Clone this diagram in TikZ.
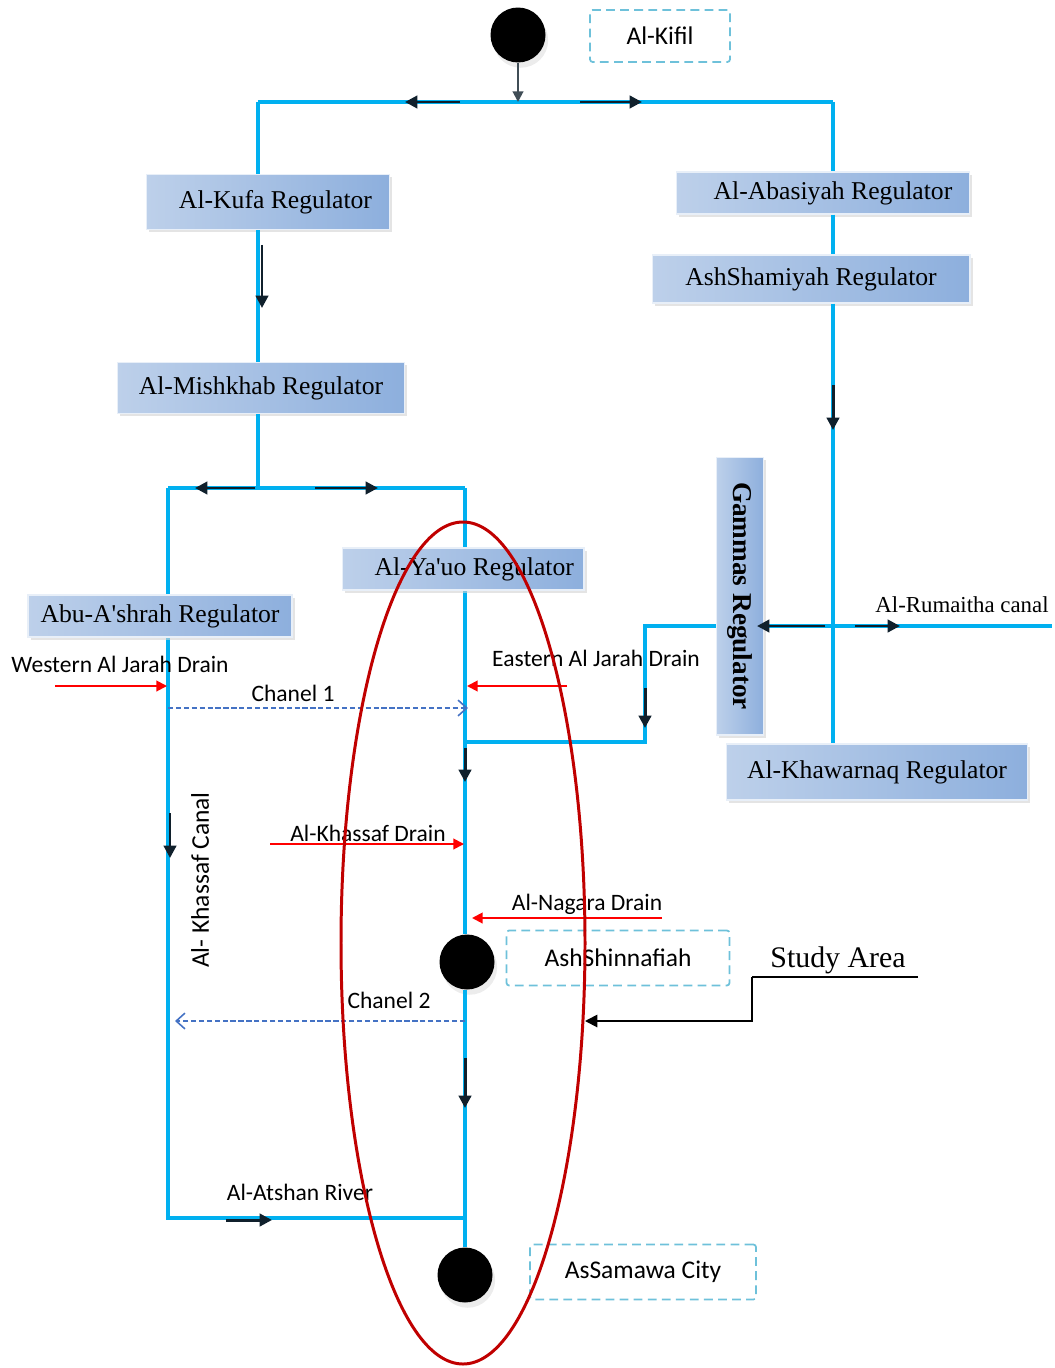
\documentclass[tikz,border=0pt]{standalone}
\usepackage{fontspec}
\setmainfont{Liberation Serif}
\newfontfamily\lblfont{Carlito}
\usetikzlibrary{arrows.meta,shadows,calc}
\definecolor{canal}{HTML}{00B0F0}
\definecolor{boxL}{HTML}{BDD0EA}
\definecolor{boxR}{HTML}{8DAFDD}
\definecolor{dashbox}{HTML}{6EC1DA}
\definecolor{chan}{HTML}{4472C4}
\definecolor{flowc}{HTML}{10202C}
\definecolor{ell}{HTML}{C00000}
\begin{document}
\begin{tikzpicture}[x=0.02cm,y=-0.02cm,
  canalline/.style={draw=canal,line width=2.3pt},
  regbox/.style={shading=axis,left color=boxL,right color=boxR,shading angle=90,
     draw=white!80!boxR,line width=0.6pt,inner sep=0pt,
     font=\fontsize{14.6}{16}\selectfont,
     drop shadow={shadow xshift=1.5pt,shadow yshift=-1.5pt,fill=gray!35,opacity=0.6}},
  endpt/.style={circle,fill=black,minimum size=1.1cm,inner sep=0pt,
     drop shadow={shadow xshift=1.5pt,shadow yshift=-3pt,fill=gray!30}},
  placebox/.style={draw=dashbox,dashed,dash pattern=on 5pt off 3pt,line width=1pt,
     rounded corners=1.5pt,inner sep=0pt,font=\lblfont\fontsize{14.5}{16}\selectfont},
  flow/.style={draw=flowc,line width=1.7pt,-{Triangle[length=7pt,width=7pt]}},
  drain/.style={draw=red,line width=1.1pt,-{Triangle[length=6pt,width=6pt]}},
  chanarrow/.style={draw=chan,dashed,dash pattern=on 3pt off 1.5pt,line width=0.9pt,
     -{Straight Barb[length=5pt,width=9pt]}},
  lbl/.style={font=\lblfont\fontsize{13.4}{15}\selectfont,inner sep=0pt},
  slbl/.style={font=\fontsize{13}{15}\selectfont,inner sep=0pt}]
\useasboundingbox (0,0) rectangle (1054,1368);

% ---------- junction coordinates ----------
\coordinate (t) at (518,102);
\coordinate (tl) at (258,102);
\coordinate (tr) at (833,102);
\coordinate (ml) at (258,488);
\coordinate (bl) at (168,488);
\coordinate (br) at (465,488);
\coordinate (blb) at (168,1218);
\coordinate (brb) at (465,1218);
\coordinate (g1) at (645,626);
\coordinate (g2) at (645,742);
\coordinate (g3) at (465,742);
\coordinate (rx) at (833,626);
\coordinate (rum) at (1052,626);

% ---------- nodes ----------
\node[endpt] (kifil) at (518,35) {};
\node[endpt] (shin) at (467,962) {};
\node[endpt] (sam) at (465,1275) {};

% ---------- canals (behind boxes) ----------
\draw[canalline] (tl) -- (tr);
\draw[canalline] (tl) -- (ml);
\draw[canalline] (tr) -- (833,744);
\draw[canalline] (bl) -- (br);
\draw[canalline] (bl) -- (blb) -- (brb);
\draw[canalline] (br) -- (br |- shin.north);
\draw[canalline] (br |- shin.south) -- (brb) -- (brb |- sam.north);
\draw[canalline] (g3) -- (g2) -- (g1) -- (rum);

% ---------- regulator boxes ----------
\node[regbox,minimum width=4.86cm,minimum height=1.1cm] (kufa) at (268,202) {\hspace*{0.3cm}Al-Kufa Regulator};
\node[regbox,minimum width=5.74cm,minimum height=1.02cm] (mish) at (261,388) {Al-Mishkhab Regulator};
\node[regbox,minimum width=5.86cm,minimum height=0.84cm] (abas) at (823,193) {\hspace*{0.4cm}Al-Abasiyah Regulator};
\node[regbox,minimum width=6.36cm,minimum height=0.96cm] (sham) at (811,279) {AshShamiyah Regulator};
\node[regbox,minimum width=4.84cm,minimum height=0.84cm] (yauo) at (463,569) {\hspace*{0.45cm}Al-Ya\textquotesingle uo Regulator};
\node[regbox,minimum width=5.28cm,minimum height=0.84cm] (abu) at (160,616) {Abu-A\textquotesingle shrah Regulator};
\node[regbox,minimum width=6.02cm,minimum height=1.12cm] (khaw) at (877,772) {Al-Khawarnaq Regulator};
\node[regbox,rotate=-90,minimum width=5.56cm,minimum height=0.94cm,font=\bfseries\fontsize{15.5}{17}\selectfont] (gam) at (740,596) {Gammas Regulator};

% visible canal segments between the boxes
\draw[canalline] (kufa.south -| tl) -- (mish.north -| tl);
\draw[canalline] (abas.south -| tr) -- (sham.north -| tr);
\draw[canalline] (mish.south -| ml) -- (ml);
\draw[canalline] (sham.south -| tr) -- (khaw.north -| tr);
\draw[canalline] (g1 -| gam.north) -- (rum);

% ---------- place boxes ----------
\node[placebox,minimum width=2.8cm,minimum height=1.04cm] (kifilb) at (660,36) {Al-Kifil};
\node[placebox,minimum width=4.46cm,minimum height=1.1cm] (shinb) at (618,958) {AshShinnafiah};
\node[placebox,minimum width=4.52cm,minimum height=1.1cm] (samb) at (643,1272) {AsSamawa City};

% ---------- flow arrows ----------
\draw[draw=flowc!80,line width=1.1pt,-{Triangle[length=6pt,width=6pt]}] (kifil.south) -- (t);
\coordinate (a1s) at (460,102); \coordinate (a1e) at (405,102);
\coordinate (a2s) at (580,102); \coordinate (a2e) at (642,102);
\coordinate (a3s) at (262,245); \coordinate (a3e) at (262,308);
\coordinate (a4s) at (833,385); \coordinate (a4e) at (833,430);
\coordinate (a5s) at (255,488); \coordinate (a5e) at (195,488);
\coordinate (a6s) at (315,488); \coordinate (a6e) at (378,488);
\coordinate (a7s) at (825,626); \coordinate (a7e) at (757,626);
\coordinate (a8s) at (855,626); \coordinate (a8e) at (900,626);
\coordinate (a9s) at (645,688); \coordinate (a9e) at (645,728);
\coordinate (a10s) at (465,748); \coordinate (a10e) at (465,782);
\coordinate (a11s) at (465,1058); \coordinate (a11e) at (465,1108);
\coordinate (a12s) at (170,813); \coordinate (a12e) at (170,858);
\coordinate (a13s) at (226,1220); \coordinate (a13e) at (272,1220);
\foreach \i in {1,...,13} {\draw[flow] (a\i s) -- (a\i e);}

% ---------- drains ----------
\coordinate (wd) at (55,686);  \coordinate (wde) at (167,686);
\coordinate (ed) at (567,686); \coordinate (ede) at (467,686);
\coordinate (kd) at (270,844); \coordinate (kde) at (464,844);
\coordinate (nd) at (662,918); \coordinate (nde) at (472,918);
\draw[drain] (wd) -- (wde);
\draw[drain] (ed) -- (ede);
\draw[drain] (kd) -- (kde);
\draw[drain] (nd) -- (nde);

% ---------- channels ----------
\coordinate (c1s) at (168,708); \coordinate (c1e) at (468,708);
\coordinate (c2s) at (465,1021); \coordinate (c2e) at (175,1021);
\draw[chanarrow] (c1s) -- (c1e);
\draw[chanarrow] (c2s) -- (c2e);

% ---------- labels ----------
\node[lbl] (lwj) at (120,664) {Western Al Jarah Drain};
\node[lbl] (lc1) at (293,693) {Chanel 1};
\node[lbl] (lej) at (596,658) {Eastern Al Jarah Drain};
\node[lbl] (lkd) at (368,833) {Al-Khassaf Drain};
\node[lbl] (lnd) at (587,904) {Al-Nagara Drain};
\node[lbl] (lc2) at (389,1000) {Chanel 2};
\node[lbl,rotate=90,font=\lblfont\fontsize{14.5}{16}\selectfont] (lkc) at (200,880) {Al- Khassaf Canal};
\node[lbl] (lat) at (300,1192) {Al-Atshan River};
\node[slbl] (lrum) at (962,605) {Al-Rumaitha canal};

% ---------- study area ----------
\node[font=\fontsize{17}{19}\selectfont,inner sep=0pt] (study) at (838,960) {Study Area};
\coordinate (su1) at (918,977); \coordinate (su2) at (752,977);
\coordinate (su3) at (752,1021); \coordinate (su4) at (585,1021);
\draw[line width=1.1pt] (su1) -- (su2);
\draw[line width=1.1pt,-{Triangle[length=7pt,width=7pt]}] (su2) -- (su3) -- (su4);

% ---------- red ellipse ----------
\coordinate (ec) at (463,943);
\draw[draw=ell,line width=1.7pt] (ec) ellipse [x radius=122, y radius=421];
\end{tikzpicture}
\end{document}
